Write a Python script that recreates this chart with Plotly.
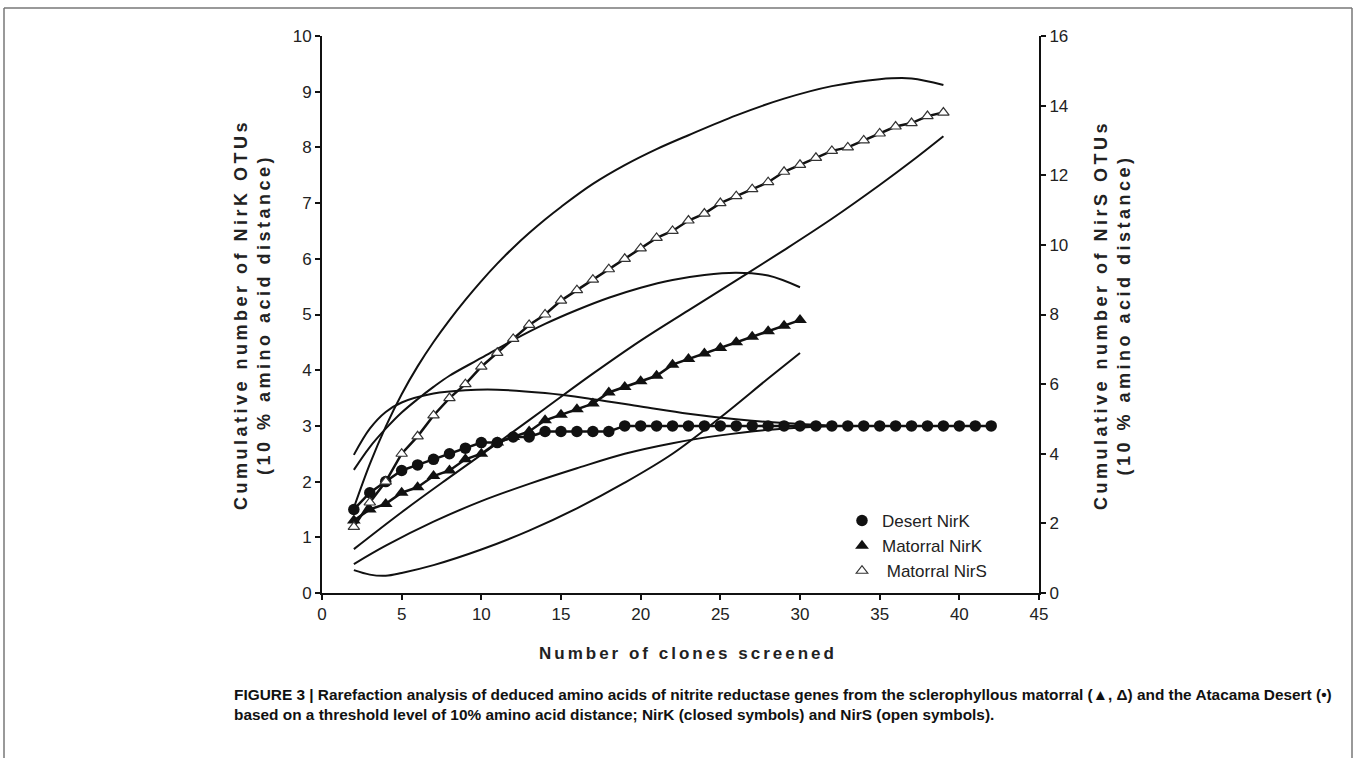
import plotly.graph_objects as go

# ---------------- data ----------------
desert_x = [2, 3, 4, 5, 6, 7, 8, 9, 10, 11, 12, 13, 14, 15, 16, 17, 18, 19, 20, 21,
            22, 23, 24, 25, 26, 27, 28, 29, 30, 31, 32, 33, 34, 35, 36, 37, 38, 39,
            40, 41, 42]
desert_nirk = [1.5, 1.8, 2.0, 2.2, 2.3, 2.4, 2.5, 2.6, 2.7, 2.7, 2.8, 2.8, 2.9, 2.9,
               2.9, 2.9, 2.9, 3.0, 3.0, 3.0, 3.0, 3.0, 3.0, 3.0, 3.0, 3.0, 3.0, 3.0,
               3.0, 3.0, 3.0, 3.0, 3.0, 3.0, 3.0, 3.0, 3.0, 3.0, 3.0, 3.0, 3.0]

matorral_k_x = [2, 3, 4, 5, 6, 7, 8, 9, 10, 11, 12, 13, 14, 15, 16, 17, 18, 19, 20,
                21, 22, 23, 24, 25, 26, 27, 28, 29, 30]
matorral_nirk = [1.3, 1.5, 1.6, 1.8, 1.9, 2.1, 2.2, 2.4, 2.5, 2.7, 2.8, 2.9, 3.1, 3.2,
                 3.3, 3.4, 3.6, 3.7, 3.8, 3.9, 4.1, 4.2, 4.3, 4.4, 4.5, 4.6, 4.7, 4.8, 4.9]

matorral_s_x = [2, 3, 4, 5, 6, 7, 8, 9, 10, 11, 12, 13, 14, 15, 16, 17, 18, 19, 20,
                21, 22, 23, 24, 25, 26, 27, 28, 29, 30, 31, 32, 33, 34, 35, 36, 37, 38, 39]
matorral_nirs = [1.9, 2.6, 3.2, 4.0, 4.5, 5.1, 5.6, 6.0, 6.5, 6.9, 7.3, 7.7, 8.0, 8.4,
                 8.7, 9.0, 9.3, 9.6, 9.9, 10.2, 10.4, 10.7, 10.9, 11.2, 11.4, 11.6,
                 11.8, 12.1, 12.3, 12.5, 12.7, 12.8, 13.0, 13.2, 13.4, 13.5, 13.7, 13.8]

# confidence-interval curves (upper / lower)
desert_upper_x = [2, 3, 4, 5, 7, 9, 11, 14, 17, 20, 23, 26, 29, 32]
desert_upper = [2.48, 2.95, 3.25, 3.42, 3.58, 3.64, 3.65, 3.59, 3.48, 3.35, 3.22, 3.12, 3.05, 3.0]
desert_lower_x = [2, 4, 7, 10, 13, 16, 19, 22, 25, 28, 32]
desert_lower = [0.52, 0.85, 1.28, 1.65, 1.96, 2.24, 2.50, 2.69, 2.83, 2.93, 3.0]

mat_k_upper_x = [2, 3, 4, 5, 6, 7, 8, 10, 12, 14, 16, 18, 20, 22, 24, 26, 28, 30]
mat_k_upper = [2.21, 2.62, 2.95, 3.24, 3.48, 3.70, 3.90, 4.22, 4.54, 4.83, 5.08, 5.30,
               5.48, 5.62, 5.71, 5.75, 5.70, 5.49]
mat_k_lower_x = [2, 3, 4, 5, 7, 10, 13, 16, 19, 22, 25, 28, 30]
mat_k_lower = [0.41, 0.33, 0.31, 0.36, 0.50, 0.78, 1.12, 1.52, 1.98, 2.50, 3.15, 3.85, 4.31]

mat_s_upper_x = [2, 3, 4, 5, 6, 7, 8, 9, 10, 11, 12, 13, 14, 15, 17, 19, 21, 23, 26,
                 29, 32, 35, 37, 39]
mat_s_upper = [2.45, 3.70, 4.78, 5.71, 6.51, 7.21, 7.84, 8.42, 8.96, 9.46, 9.92, 10.34,
               10.73, 11.09, 11.75, 12.29, 12.75, 13.15, 13.72, 14.2, 14.56, 14.76,
               14.78, 14.59]
mat_s_lower_x = [2, 5, 8, 11, 14, 17, 20, 23, 26, 29, 32, 35, 37, 39]
mat_s_lower = [1.26, 2.32, 3.32, 4.3, 5.3, 6.3, 7.25, 8.12, 8.98, 9.85, 10.75, 11.72, 12.4, 13.12]

x_ticks = [0, 5, 10, 15, 20, 25, 30, 35, 40, 45]
y_left_ticks = [0, 1, 2, 3, 4, 5, 6, 7, 8, 9, 10]
y_right_ticks = [0, 2, 4, 6, 8, 10, 12, 14, 16]

# ---------------- layout geometry ----------------
W, H = 1356, 758
L, R, T, B = 322, 1039, 36, 593


def px(xp):
    return (xp - L) / (R - L)


def py(yp):
    return (B - yp) / (B - T)


FONT = "Liberation Sans, Arial, sans-serif"
fig = go.Figure()

band = dict(mode="lines", line=dict(color="#111111", width=2, shape="spline", smoothing=1),
            showlegend=False, hoverinfo="skip")
for bx, by, ax in [(desert_upper_x, desert_upper, "y"), (desert_lower_x, desert_lower, "y"),
                   (mat_k_upper_x, mat_k_upper, "y"), (mat_k_lower_x, mat_k_lower, "y"),
                   (mat_s_upper_x, mat_s_upper, "y2"), (mat_s_lower_x, mat_s_lower, "y2")]:
    fig.add_trace(go.Scatter(x=bx, y=by, yaxis=ax, **band))

# connecting lines of the data series
for sx, sy, ax in [(desert_x, desert_nirk, "y"), (matorral_k_x, matorral_nirk, "y"),
                   (matorral_s_x, matorral_nirs, "y2")]:
    fig.add_trace(go.Scatter(x=sx, y=sy, yaxis=ax, mode="lines",
                             line=dict(color="#111111", width=2.5),
                             showlegend=False, hoverinfo="skip"))

fig.add_trace(go.Scatter(x=desert_x, y=desert_nirk, mode="markers", name="Desert NirK",
                         marker=dict(symbol="circle", size=11.5, color="#111111")))
fig.add_trace(go.Scatter(x=matorral_k_x, y=matorral_nirk, mode="markers", name="Matorral NirK",
                         marker=dict(symbol="triangle-up", size=12, color="#111111")))
fig.add_trace(go.Scatter(x=matorral_s_x, y=matorral_nirs, mode="markers", yaxis="y2",
                         name=" Matorral NirS",
                         marker=dict(symbol="triangle-up", size=10, color="white",
                                     line=dict(color="#333333", width=1.2))))

axis_common = dict(showline=True, linecolor="#111111", linewidth=2, ticks="outside",
                   ticklen=5, tickwidth=1.5, tickcolor="#111111", showgrid=False,
                   zeroline=False, tickfont=dict(family=FONT, size=17, color="#222222"))

fig.update_layout(
    width=W, height=H,
    margin=dict(l=L, r=W - R, t=T, b=H - B),
    paper_bgcolor="white", plot_bgcolor="white",
    xaxis=dict(range=[0, 45], tickvals=x_ticks, **axis_common),
    yaxis=dict(range=[0, 10], tickvals=y_left_ticks, **axis_common),
    yaxis2=dict(range=[0, 16], tickvals=y_right_ticks, overlaying="y", side="right",
                anchor="x", **axis_common),
    legend=dict(x=px(842), y=py(503), xanchor="left", yanchor="top",
                bgcolor="rgba(0,0,0,0)", font=dict(family=FONT, size=17, color="#222222"),
                itemwidth=30, tracegroupgap=0),
    showlegend=True,
)

ann = []
ann.append(dict(x=px(252), y=py(315), xref="paper", yref="paper", textangle=-90,
                showarrow=False, xanchor="center", yanchor="middle",
                text='<span style="letter-spacing:3.5px"><b>Cumulative number of NirK OTUs</b></span><br>'
                     '<span style="letter-spacing:3.5px"><b>(10 % amino acid distance)</b></span>',
                font=dict(family=FONT, size=18, color="#222222")))
ann.append(dict(x=px(1112), y=py(315), xref="paper", yref="paper", textangle=-90,
                showarrow=False, xanchor="center", yanchor="middle",
                text='<span style="letter-spacing:3.5px"><b>Cumulative number of NirS OTUs</b></span><br>'
                     '<span style="letter-spacing:3.5px"><b>(10 % amino acid distance)</b></span>',
                font=dict(family=FONT, size=18, color="#222222")))
ann.append(dict(x=px(688), y=py(653), xref="paper", yref="paper", showarrow=False,
                xanchor="center", yanchor="middle",
                text='<span style="letter-spacing:3px"><b>Number of clones screened</b></span>',
                font=dict(family=FONT, size=17, color="#222222")))
ann.append(dict(x=px(232), y=py(694), xref="paper", yref="paper", showarrow=False,
                xanchor="left", yanchor="middle",
                text="<b>FIGURE 3 | Rarefaction analysis of deduced amino acids of nitrite reductase "
                     "genes from the sclerophyllous matorral (▲, Δ) and the Atacama Desert (•)</b>",
                font=dict(family=FONT, size=15.4, color="#111111")))
ann.append(dict(x=px(232), y=py(715), xref="paper", yref="paper", showarrow=False,
                xanchor="left", yanchor="middle",
                text="<b>based on a threshold level of 10% amino acid distance; NirK (closed "
                     "symbols) and NirS (open symbols).</b>",
                font=dict(family=FONT, size=15.4, color="#111111")))
fig.update_layout(annotations=ann)

# figure frame (left, top, right edges)
frame = dict(type="line", xref="paper", yref="paper", line=dict(color="#777777", width=1.5))
fig.update_layout(shapes=[
    dict(x0=px(4), x1=px(4), y0=py(8), y1=py(760), **frame),
    dict(x0=px(4), x1=px(1352), y0=py(8), y1=py(8), **frame),
    dict(x0=px(1352), x1=px(1352), y0=py(8), y1=py(760), **frame),
])

fig.write_html("out.html", config={"displayModeBar": False},
               post_script="document.body.style.margin='0';document.body.style.overflow='hidden';")
